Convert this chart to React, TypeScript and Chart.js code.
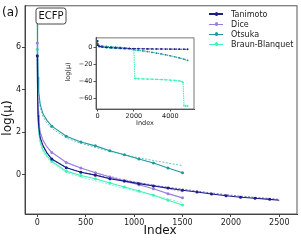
import React, { useEffect, useRef } from 'react';
import { Chart, registerables } from 'chart.js';
Chart.register(...registerables);

const FONT = 'DejaVu Sans';

// ---- Main panel data ----
const seriesNames = ['Tanimoto', 'Dice', 'Otsuka', 'Braun-Blanquet'];
const seriesColors = ['#1b1b8a', '#9a7de0', '#1f9a9c', '#3df2b8'];

const xLong = [0, 3, 8, 15, 30, 60, 100, 150, 300, 450, 600, 750, 900, 1050, 1200, 1350, 1500, 1650, 1800, 1950, 2100, 2250, 2400, 2500];
const xShort = [0, 3, 8, 15, 30, 60, 100, 150, 300, 450, 600, 750, 900, 1050, 1200, 1350, 1500];

const tanimotoY = [5.6, 3.7, 2.8, 2.25, 1.75, 1.35, 1.02, 0.73, 0.32, 0.11, -0.03, -0.2, -0.31, -0.43, -0.54, -0.64, -0.74, -0.82, -0.92, -1.0, -1.07, -1.12, -1.17, -1.21];
const tanimotoFitY = [5.6, 3.6, 2.7, 2.2, 1.7, 1.3, 1.0, 0.72, 0.33, 0.12, -0.02, -0.17, -0.28, -0.39, -0.5, -0.6, -0.69, -0.78, -0.87, -0.95, -1.02, -1.08, -1.13, -1.17];
const diceY = [6.2, 3.9, 3.0, 2.5, 2.0, 1.6, 1.3, 1.04, 0.57, 0.31, 0.08, -0.12, -0.31, -0.48, -0.67, -0.9, -1.1];
const diceFitY = [6.2, 3.9, 3.0, 2.5, 2.0, 1.6, 1.3, 1.05, 0.58, 0.3, 0.1, -0.08, -0.24, -0.38, -0.52, -0.66, -0.82];
const otsukaY = [7.4, 5.6, 4.6, 3.9, 3.3, 2.85, 2.55, 2.28, 1.8, 1.53, 1.35, 1.12, 0.93, 0.73, 0.54, 0.31, 0.08];
const otsukaFitY = [7.4, 5.4, 4.4, 3.75, 3.15, 2.72, 2.42, 2.18, 1.72, 1.47, 1.28, 1.09, 0.93, 0.79, 0.66, 0.54, 0.42];
const braunY = [5.9, 3.4, 2.5, 2.0, 1.55, 1.15, 0.88, 0.62, 0.16, -0.05, -0.2, -0.4, -0.59, -0.78, -0.98, -1.21, -1.44];
const braunFitY = [5.9, 3.3, 2.4, 1.9, 1.45, 1.05, 0.8, 0.55, 0.1, -0.12, -0.3, -0.48, -0.65, -0.82, -0.98, -1.15, -1.32];

const mainXTicks = [0, 500, 1000, 1500, 2000, 2500];
const mainYTicks = [0, 2, 4, 6];

// ---- Inset data ----
const insetXA = [0, 20, 100, 250, 500, 750, 1000, 1250, 1500, 1750, 2000, 2250, 2500, 2750, 3000, 3250, 3500, 3750, 4000, 4250, 4500, 4750, 4950];
const insetTanimotoY = [8, 3, 1.5, 0.9, 0.3, 0, -0.3, -0.5, -0.7, -0.9, -1.1, -1.2, -1.3, -1.4, -1.45, -1.5, -1.55, -1.6, -1.65, -1.7, -1.75, -1.8, -1.85];
const insetOtsukaY = [8, 4, 2.5, 2.0, 1.5, 1.1, 0.7, 0.2, -0.3, -1.2, -2.6, -3.2, -3.8, -4.6, -5.5, -6.4, -7.3, -8.4, -9.5, -10.7, -12, -13.5, -15];
const insetXDice = [0, 20, 100, 250, 500, 750, 1000, 1250, 1500];
const insetDiceY = [8, 3.2, 1.7, 1.0, 0.4, 0.1, -0.3, -0.7, -1.1];
const insetXBraun = [0, 20, 100, 250, 500, 750, 1000, 1250, 1500, 1750, 2000, 2050, 2100, 2250, 2500, 2750, 3000, 3250, 3500, 3750, 4000, 4250, 4500, 4650, 4700, 4750, 4850, 4950];
const insetBraunY = [8, 3, 1.2, 0.6, 0, -0.4, -0.8, -1.2, -1.6, -2.0, -2.5, -36, -36.2, -36.4, -36.6, -36.8, -37, -37.2, -37.4, -37.7, -38, -38.4, -39, -40, -41, -68, -68.5, -68.5];
const insetXTicks = [0, 2000, 4000];
const insetYTicks = [0, -20, -40, -60];

const pts = (xs: number[], ys: number[]) => xs.map((x, i) => ({ x, y: ys[i] }));
const fmt = (v: number) => (v < 0 ? '\u2212' + Math.abs(v) : String(v));

function mainChart(canvas: HTMLCanvasElement) {
  const solid = (i: number, xs: number[], ys: number[], order: number) => ({
    label: seriesNames[i],
    data: pts(xs, ys),
    borderColor: seriesColors[i],
    backgroundColor: seriesColors[i],
    borderWidth: 1.1,
    pointRadius: (c: any) => (c.raw && c.raw.x % 150 === 0 ? 1.5 : 0),
    pointBorderWidth: 0,
    order,
  });
  const fit = (i: number, xs: number[], ys: number[], order: number) => ({
    label: seriesNames[i] + ' fit',
    data: pts(xs, ys),
    borderColor: seriesColors[i] + 'b0',
    borderWidth: 0.9,
    borderDash: [2, 1.5],
    pointRadius: 0,
    order,
  });
  const frame = {
    id: 'frame',
    afterDraw(chart: any) {
      const { ctx, chartArea: a } = chart;
      ctx.save();
      ctx.strokeStyle = '#444';
      ctx.lineWidth = 0.9;
      ctx.strokeRect(a.left, a.top, a.right - a.left, a.bottom - a.top);
      ctx.fillStyle = '#111';
      ctx.font = `12px ${FONT}`;
      ctx.textAlign = 'left';
      ctx.textBaseline = 'middle';
      ctx.fillText('(a)', 2, 13);
      // ECFP box
      const bx = 36, by = 8, bw = 30, bh = 16, r = 2.5;
      ctx.beginPath();
      ctx.moveTo(bx + r, by);
      ctx.arcTo(bx + bw, by, bx + bw, by + bh, r);
      ctx.arcTo(bx + bw, by + bh, bx, by + bh, r);
      ctx.arcTo(bx, by + bh, bx, by, r);
      ctx.arcTo(bx, by, bx + bw, by, r);
      ctx.closePath();
      ctx.fillStyle = '#fff';
      ctx.fill();
      ctx.strokeStyle = '#333';
      ctx.lineWidth = 0.9;
      ctx.stroke();
      ctx.fillStyle = '#111';
      ctx.font = `10px ${FONT}`;
      ctx.textAlign = 'center';
      ctx.fillText('ECFP', bx + bw / 2, by + bh / 2 + 0.5);
      // axis titles
      ctx.font = `12px ${FONT}`;
      ctx.fillText('Index', 160, 231);
      ctx.translate(8, 118);
      ctx.rotate(-Math.PI / 2);
      ctx.fillText('log(\u03bc)', 0, 0);
      ctx.restore();
    },
  };
  return new Chart(canvas, {
    type: 'line',
    data: {
      datasets: [
        solid(0, xLong, tanimotoY, 1),
        solid(1, xShort, diceY, 2),
        solid(2, xShort, otsukaY, 3),
        solid(3, xShort, braunY, 4),
        fit(0, xLong, tanimotoFitY, 5),
        fit(1, xShort, diceFitY, 6),
        fit(2, xShort, otsukaFitY, 7),
        fit(3, xShort, braunFitY, 8),
      ] as any,
    },
    options: {
      animation: false,
      responsive: false,
      maintainAspectRatio: false,
      layout: { padding: { top: 3, right: 4, left: 0, bottom: 0 } },
      plugins: { legend: { display: false }, tooltip: { enabled: false } },
      scales: {
        x: {
          type: 'linear',
          min: -127,
          max: 2683,
          afterFit: (s: any) => { s.height = 27; },
          afterBuildTicks: (s: any) => { s.ticks = mainXTicks.map((v) => ({ value: v })); },
          grid: { drawOnChartArea: false, drawTicks: true, tickLength: 3, tickColor: '#444' },
          border: { color: '#444' },
          ticks: { font: { family: FONT, size: 8 }, color: '#222', padding: 1, maxRotation: 0, autoSkip: false, callback: (v: any) => fmt(Number(v)) },
        },
        y: {
          type: 'linear',
          min: -1.86,
          max: 7.95,
          afterFit: (s: any) => { s.width = 25; },
          afterBuildTicks: (s: any) => { s.ticks = mainYTicks.map((v) => ({ value: v })); },
          grid: { drawOnChartArea: false, drawTicks: true, tickLength: 3, tickColor: '#444' },
          border: { color: '#444' },
          ticks: { font: { family: FONT, size: 8 }, color: '#222', padding: 1, autoSkip: false, callback: (v: any) => fmt(Number(v)) },
        },
      },
    } as any,
    plugins: [frame],
  });
}

function insetChart(canvas: HTMLCanvasElement) {
  const ds = (i: number, xs: number[], ys: number[], order: number) => ({
    label: seriesNames[i],
    data: pts(xs, ys),
    borderColor: seriesColors[i],
    backgroundColor: seriesColors[i],
    borderWidth: 1.1,
    borderDash: [1.5, 0.8],
    pointRadius: 0.9,
    pointBorderWidth: 0,
    order,
  });
  const deco = {
    id: 'deco',
    beforeDraw(chart: any) {
      const { ctx, chartArea: a } = chart;
      ctx.save();
      ctx.fillStyle = '#fff';
      ctx.fillRect(a.left, a.top, a.right - a.left, a.bottom - a.top);
      ctx.restore();
    },
    afterDraw(chart: any) {
      const { ctx, chartArea: a } = chart;
      ctx.save();
      ctx.strokeStyle = '#555';
      ctx.lineWidth = 0.8;
      ctx.strokeRect(a.left, a.top, a.right - a.left, a.bottom - a.top);
      ctx.fillStyle = '#222';
      ctx.font = `6.5px ${FONT}`;
      ctx.textAlign = 'center';
      ctx.textBaseline = 'middle';
      ctx.fillText('Index', 83, 90);
      ctx.translate(6, 39);
      ctx.rotate(-Math.PI / 2);
      ctx.fillText('log(\u03bc)', 0, 0);
      ctx.restore();
    },
  };
  return new Chart(canvas, {
    type: 'line',
    data: {
      datasets: [
        ds(0, insetXA, insetTanimotoY, 1),
        ds(1, insetXDice, insetDiceY, 4),
        ds(2, insetXA, insetOtsukaY, 3),
        ds(3, insetXBraun, insetBraunY, 2),
      ] as any,
    },
    options: {
      animation: false,
      responsive: false,
      maintainAspectRatio: false,
      layout: { padding: { top: 3, right: 4, left: 0, bottom: 0 } },
      plugins: { legend: { display: false }, tooltip: { enabled: false } },
      scales: {
        x: {
          type: 'linear',
          min: -80,
          max: 5300,
          afterFit: (s: any) => { s.height = 21; },
          afterBuildTicks: (s: any) => { s.ticks = insetXTicks.map((v) => ({ value: v })); },
          grid: { drawOnChartArea: false, drawTicks: true, tickLength: 2.5, tickColor: '#555' },
          border: { color: '#555' },
          ticks: { font: { family: FONT, size: 6.5 }, color: '#222', padding: 1, maxRotation: 0, autoSkip: false, callback: (v: any) => fmt(Number(v)) },
        },
        y: {
          type: 'linear',
          min: -72,
          max: 11.5,
          afterFit: (s: any) => { s.width = 34; },
          afterBuildTicks: (s: any) => { s.ticks = insetYTicks.map((v) => ({ value: v })); },
          grid: { drawOnChartArea: false, drawTicks: true, tickLength: 2.5, tickColor: '#555' },
          border: { color: '#555' },
          ticks: { font: { family: FONT, size: 6.5 }, color: '#222', padding: 1, autoSkip: false, callback: (v: any) => fmt(Number(v)) },
        },
      },
    } as any,
    plugins: [deco],
  });
}

function Legend() {
  const rowTops = [14, 24.3, 34.3, 44.3];
  return (
    <>
      {seriesNames.map((n, i) => (
        <div key={n} style={{ position: 'absolute', left: 209, top: rowTops[i] - 6, height: 12, display: 'flex', alignItems: 'center' }}>
          <div style={{ position: 'relative', width: 14, height: 1.3, background: seriesColors[i] }}>
            <div style={{ position: 'absolute', left: 5.5, top: -1.2, width: 3.5, height: 3.5, borderRadius: 2, background: seriesColors[i] }} />
          </div>
          <span style={{ marginLeft: 8, font: `8px ${FONT}`, color: '#222', whiteSpace: 'nowrap' }}>{n}</span>
        </div>
      ))}
    </>
  );
}

export default function App() {
  const mainRef = useRef<HTMLCanvasElement>(null);
  const insetRef = useRef<HTMLCanvasElement>(null);
  useEffect(() => {
    const c1 = mainChart(mainRef.current!);
    const c2 = insetChart(insetRef.current!);
    return () => { c1.destroy(); c2.destroy(); };
  }, []);
  return (
    <div style={{ position: 'fixed', left: 0, top: 0, width: 301, height: 241, background: '#fff', overflow: 'hidden' }}>
      <canvas ref={mainRef} width={301} height={241} style={{ position: 'absolute', left: 0, top: 0, width: 301, height: 241 }} />
      <canvas ref={insetRef} width={136} height={97} style={{ position: 'absolute', left: 62, top: 33, width: 136, height: 97 }} />
      <Legend />
    </div>
  );
}
